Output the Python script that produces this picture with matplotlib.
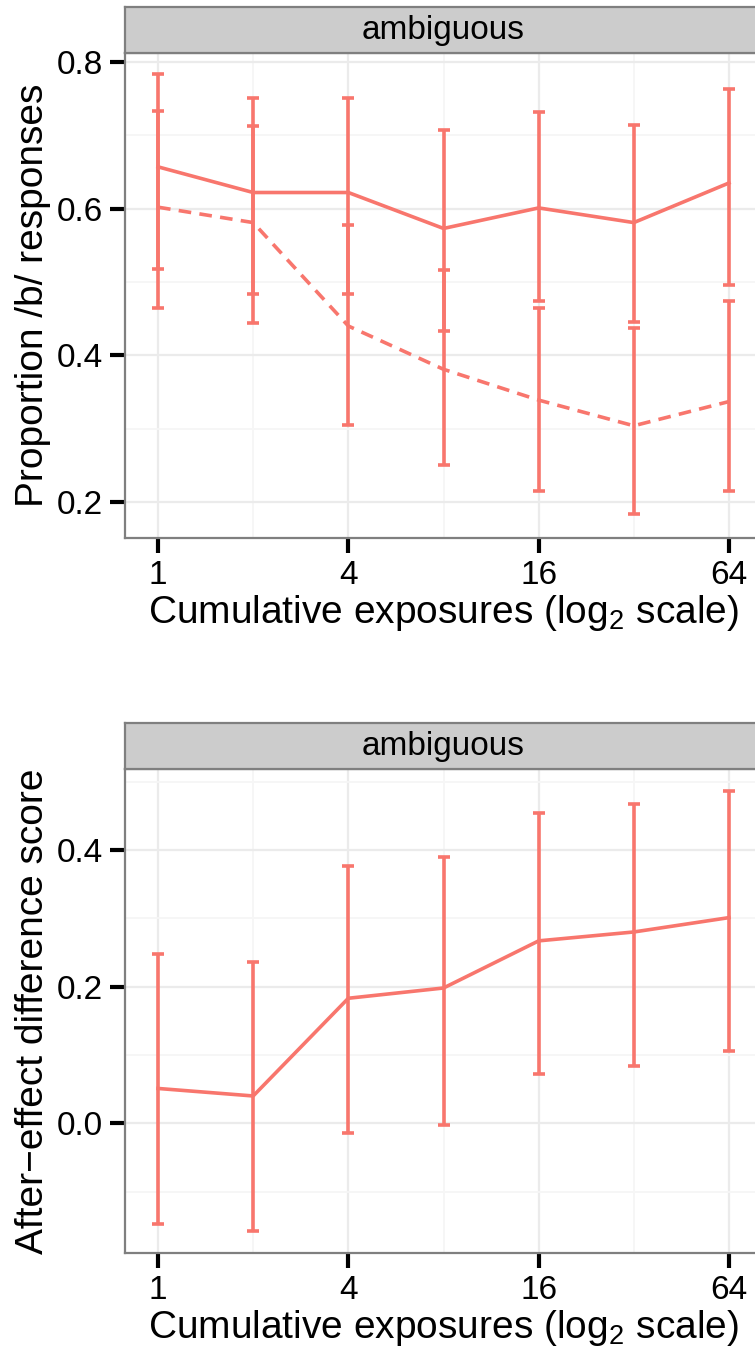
import numpy as np
import matplotlib.pyplot as plt
from matplotlib.ticker import NullFormatter

plt.rcParams['font.family'] = ['Liberation Sans', 'DejaVu Sans']
plt.rcParams['mathtext.fontset'] = 'custom'
plt.rcParams['mathtext.rm'] = 'Liberation Sans'
plt.rcParams['axes.unicode_minus'] = True

# data
exposures = [1, 2, 4, 8, 16, 32, 64]

prop_solid = [0.657, 0.622, 0.622, 0.573, 0.601, 0.581, 0.635]
prop_solid_lo = [0.518, 0.484, 0.484, 0.433, 0.474, 0.445, 0.496]
prop_solid_hi = [0.783, 0.751, 0.751, 0.707, 0.732, 0.714, 0.763]

prop_dashed = [0.602, 0.581, 0.440, 0.381, 0.339, 0.304, 0.337]
prop_dashed_lo = [0.465, 0.444, 0.305, 0.250, 0.215, 0.184, 0.215]
prop_dashed_hi = [0.733, 0.713, 0.578, 0.516, 0.465, 0.437, 0.474]

diff = [0.051, 0.040, 0.183, 0.198, 0.267, 0.280, 0.301]
diff_lo = [-0.148, -0.158, -0.014, -0.002, 0.072, 0.084, 0.106]
diff_hi = [0.248, 0.236, 0.377, 0.389, 0.454, 0.467, 0.486]

facet = 'ambiguous'
xlab = 'Cumulative exposures (log$_2$ scale)'

RED = '#F8766D'
BORDER = '#7f7f7f'
LW = 2.6

W, H = 755, 1353
fig = plt.figure(figsize=(W / 100, H / 100), dpi=100)


def px(x0, y0, x1, y1):
    # pixel box -> figure fraction rect
    return [x0 / W, 1 - y1 / H, (x1 - x0) / W, (y1 - y0) / H]


def errbars(ax, y, lo, hi):
    y, lo, hi = np.array(y), np.array(lo), np.array(hi)
    ax.errorbar(exposures, y, yerr=[y - lo, hi - y], fmt='none', ecolor=RED,
                elinewidth=LW, capsize=4, capthick=LW, zorder=3)


def style(ax, ylim, yticks, yminor, ylabel):
    ax.set_xscale('log', base=2)
    ax.set_xlim(2 ** -0.347, 2 ** 6.347)
    ax.set_ylim(*ylim)
    ax.set_xticks([1, 4, 16, 64], labels=['1', '4', '16', '64'])
    ax.set_xticks([2, 8, 32], minor=True)
    ax.xaxis.set_minor_formatter(NullFormatter())
    ax.set_yticks(yticks, labels=[f'{v:.1f}' for v in yticks])
    ax.set_yticks(yminor, minor=True)
    ax.yaxis.set_minor_formatter(NullFormatter())
    ax.tick_params(which='major', length=11, width=3, color='black',
                   labelsize=24, pad=5)
    ax.tick_params(which='minor', length=0)
    ax.grid(which='major', color='#ebebeb', lw=1.6)
    ax.grid(which='minor', color='#f6f6f6', lw=1.3)
    ax.set_axisbelow(True)
    for s in ax.spines.values():
        s.set_color(BORDER)
        s.set_linewidth(1.6)
    ax.set_xlabel(xlab, fontsize=28, va='center')
    ax.xaxis.set_label_coords(0.5, -0.1546)
    ax.set_ylabel(ylabel, fontsize=28, va='center')
    ax.yaxis.set_label_coords(-0.1437, 0.5)


def strip(rect):
    s = fig.add_axes(rect)
    s.set_facecolor('#cccccc')
    s.set_xticks([])
    s.set_yticks([])
    for sp in s.spines.values():
        sp.set_color(BORDER)
        sp.set_linewidth(1.6)
    s.text(0.5, 0.5, facet, ha='center', va='center', fontsize=24,
           transform=s.transAxes)


# top panel
ax1 = fig.add_axes(px(125, 53, 762, 538))
errbars(ax1, prop_solid, prop_solid_lo, prop_solid_hi)
errbars(ax1, prop_dashed, prop_dashed_lo, prop_dashed_hi)
ax1.plot(exposures, prop_solid, color=RED, lw=LW, zorder=4)
ax1.plot(exposures, prop_dashed, color=RED, lw=LW, ls=(0, (3.5, 2.3)), zorder=4)
style(ax1, (0.151, 0.8122), [0.2, 0.4, 0.6, 0.8], [0.3, 0.5, 0.7],
      'Proportion /b/ responses')
strip(px(125, 7, 762, 53))

# bottom panel
ax2 = fig.add_axes(px(125, 769, 762, 1253))
errbars(ax2, diff, diff_lo, diff_hi)
ax2.plot(exposures, diff, color=RED, lw=LW, zorder=4)
style(ax2, (-0.1898, 0.5185), [0.0, 0.2, 0.4], [-0.1, 0.1, 0.3, 0.5],
      'After\u2212effect difference score')
strip(px(125, 723, 762, 769))

fig.savefig('out.png', dpi=100)
